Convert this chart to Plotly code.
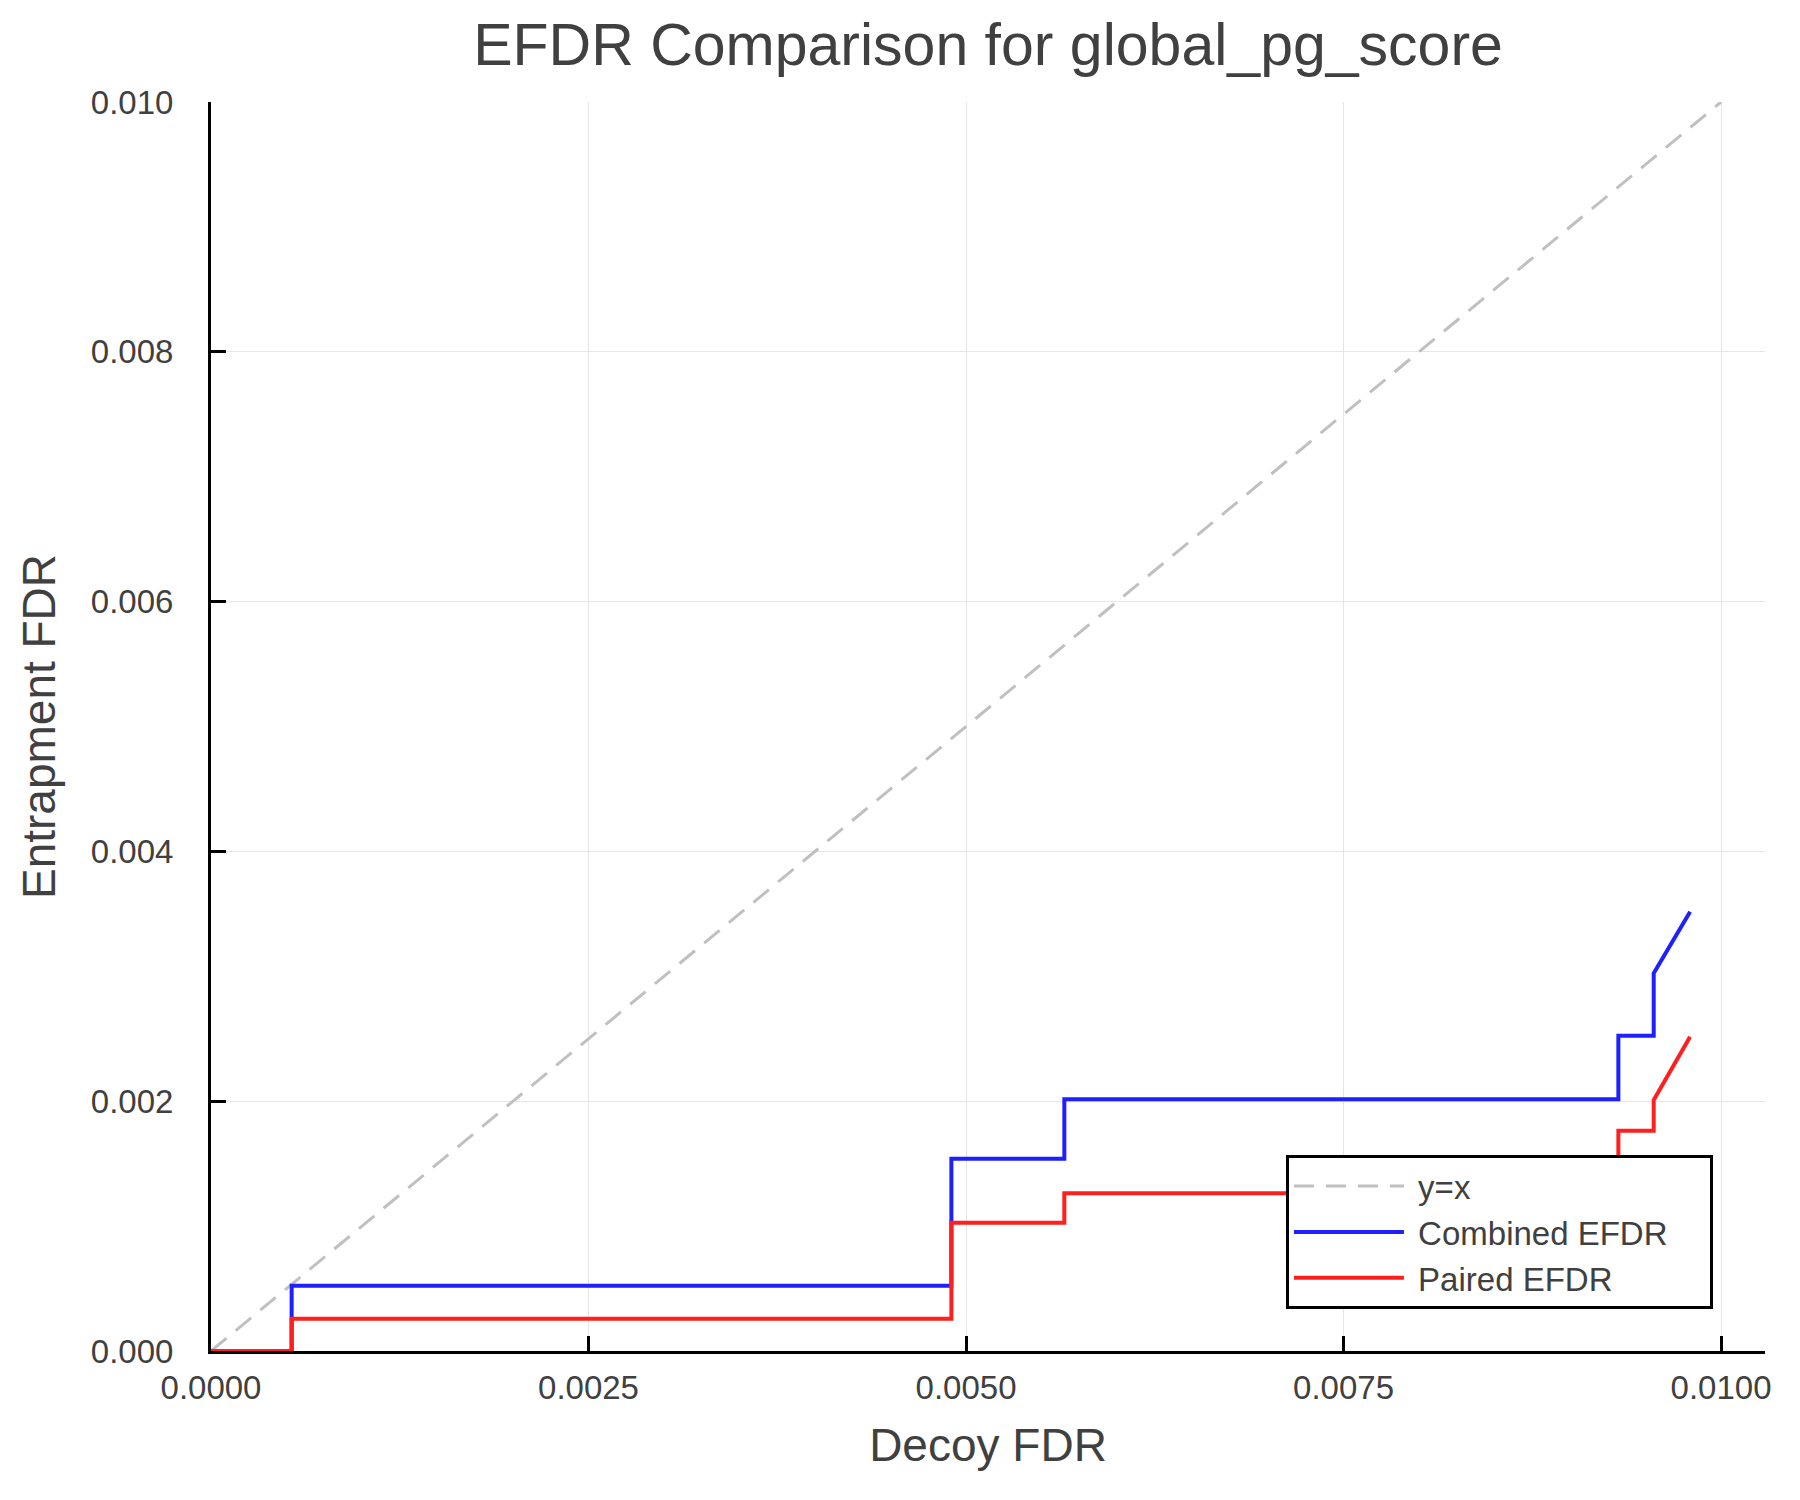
#!/usr/bin/env python3
"""
EFDR comparison plot: combined vs paired entrapment FDR against decoy FDR
"""

import plotly.graph_objects as go

# Step vertices (decoy FDR on x)
decoy_fdr = [0.0, 0.000534, 0.000534, 0.004903, 0.004903, 0.005651, 0.005651,
             0.009320, 0.009320, 0.009554, 0.009554, 0.009795]
combined_efdr = [0.0, 0.0, 0.000523, 0.000523, 0.001540, 0.001540, 0.002015,
                 0.002015, 0.002525, 0.002525, 0.003024, 0.003517]
paired_efdr = [0.0, 0.0, 0.000259, 0.000259, 0.001027, 0.001027, 0.001263,
               0.001263, 0.001764, 0.001764, 0.002010, 0.002517]

# Reference diagonal
diag = [0.0, 0.010]

x_ticks = [0.0, 0.0025, 0.0050, 0.0075, 0.0100]
x_tick_labels = ["0.0000", "0.0025", "0.0050", "0.0075", "0.0100"]
y_ticks = [0.0, 0.002, 0.004, 0.006, 0.008, 0.010]
y_tick_labels = ["0.000", "0.002", "0.004", "0.006", "0.008", "0.010"]

FONT = "Liberation Sans, Arial, sans-serif"
TEXT = "#404040"

# page body has an 8px margin, so the figure is shrunk by that much
W, H = 1792, 1492

# non-breaking spaces pad the legend entries a little (gap after the symbol,
# extra room on the right of the box)
NB = "\u00a0"


def build_figure():
    fig = go.Figure()

    fig.add_trace(go.Scatter(
        x=diag, y=diag,
        mode='lines',
        name=NB + 'y=x',
        line=dict(color='#c0c0c0', width=3, dash='20px,12px')
    ))

    fig.add_trace(go.Scatter(
        x=decoy_fdr, y=combined_efdr,
        mode='lines',
        name=NB + 'Combined EFDR' + NB * 4,
        line=dict(color='#1f1fff', width=4)
    ))

    fig.add_trace(go.Scatter(
        x=decoy_fdr, y=paired_efdr,
        mode='lines',
        name=NB + 'Paired EFDR',
        line=dict(color='#ff1f1f', width=4)
    ))

    axis_common = dict(
        showline=True,
        linecolor='black',
        linewidth=3,
        mirror=False,
        ticks='inside',
        ticklen=15,
        tickwidth=3,
        tickcolor='black',
        showgrid=True,
        gridcolor='#e6e6e6',
        gridwidth=1.2,
        zeroline=False,
        tickfont=dict(family=FONT, size=33, color=TEXT),
    )

    fig.update_layout(
        width=W,
        height=H,
        margin=dict(l=203, r=35, t=94, b=149),
        paper_bgcolor='white',
        plot_bgcolor='white',
        font=dict(family=FONT, color=TEXT),
        title=dict(
            text='EFDR Comparison for global_pg_score',
            font=dict(family=FONT, size=59, color=TEXT),
            x=0.5, xref='paper', xanchor='center',
            y=1 - 36 / H, yref='container', yanchor='middle'
        ),
        xaxis=dict(
            range=[0, 0.010291],
            tickvals=x_ticks,
            ticktext=x_tick_labels,
            ticklabelstandoff=5,
            title=dict(text='Decoy FDR', font=dict(family=FONT, size=46, color=TEXT),
                       standoff=25),
            **axis_common
        ),
        yaxis=dict(
            range=[0, 0.010],
            tickvals=y_ticks,
            ticktext=y_tick_labels,
            ticklabelstandoff=28,
            title=dict(text='Entrapment FDR', font=dict(family=FONT, size=46, color=TEXT),
                       standoff=21),
            **axis_common
        ),
        legend=dict(
            x=0.9665, y=0.0336,
            xanchor='right', yanchor='bottom',
            bgcolor='white',
            bordercolor='black',
            borderwidth=3,
            itemwidth=110,
            font=dict(family=FONT, size=33, color=TEXT),
        ),
        showlegend=True,
    )

    return fig


def main():
    fig = build_figure()
    fig.write_html("out.html")


if __name__ == "__main__":
    main()
